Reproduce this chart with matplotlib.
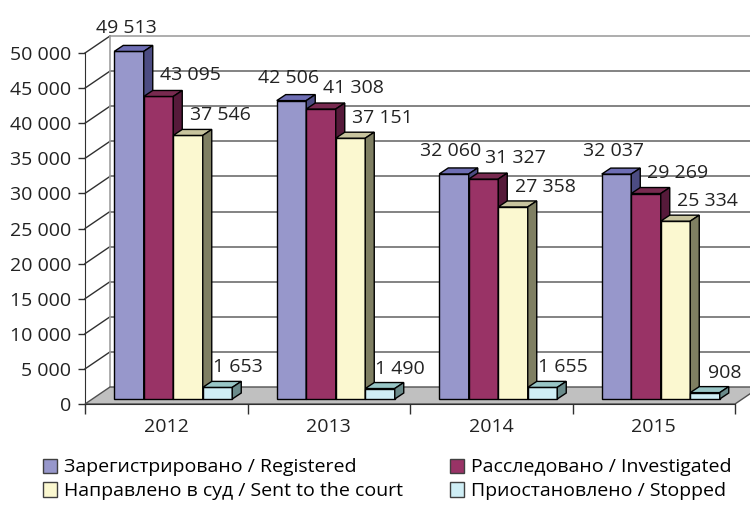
import matplotlib as mpl
mpl.use('Agg')
import matplotlib.pyplot as plt
from matplotlib.patches import Polygon, Patch
from matplotlib.ticker import FuncFormatter, FixedLocator

plt.rcParams['font.family'] = ['Open Sans', 'DejaVu Sans']

years = ['2012', '2013', '2014', '2015']
registered = [49513, 42506, 32060, 32037]
investigated = [43095, 41308, 31327, 29269]
sent_to_court = [37546, 37151, 27358, 25334]
stopped = [1653, 1490, 1655, 908]

series_names = ['Зарегистрировано / Registered', 'Расследовано / Investigated',
                'Направлено в суд / Sent to the court', 'Приостановлено / Stopped']
series_values = [registered, investigated, sent_to_court, stopped]
# front, top, side
face_colors = [('#9797CB', '#6E6EB4', '#4C4C82'),
               ('#993366', '#782A50', '#561A3A'),
               ('#FBF8D0', '#C8C49E', '#7F7F62'),
               ('#CFEEF5', '#98C6C6', '#6A8A8A')]
label_dx = [-3, 32, 32, 20]   # pixels
label_dy = [23, 21, 20, 20]

fig = plt.figure(figsize=(7.5, 5.12), dpi=100)
ax = fig.add_axes([85 / 750, 108 / 512, 650 / 750, 351 / 512])
ax.set_xlim(-0.5, 3.5)
ax.set_ylim(0, 50000)

# oblique depth expressed in data units
px_x = 1 / 162.5
px_y = 50000 / 351
wall_dx, wall_dy = 25 * px_x, 17 * px_y
off_dx, off_dy = 7 * px_x, 5 * px_y
bar_dx, bar_dy = 9 * px_x, 6 * px_y
w = 29.5 * px_x

# floor
ax.add_patch(Polygon([(-0.5, 0), (3.5, 0), (3.5 + wall_dx, wall_dy), (-0.5 + wall_dx, wall_dy)],
                     closed=True, facecolor='#C0C0C0', edgecolor='#505050', lw=1,
                     clip_on=False, zorder=1))
# walls / grid
ticks = list(range(0, 50001, 5000))
for v in ticks[1:]:
    col = '#A0A0A0' if v == 50000 else '#6E6E6E'
    ax.plot([-0.5 + wall_dx, 3.5 + wall_dx + 0.2], [v + wall_dy] * 2, color=col, lw=1.2,
            clip_on=False, zorder=0.5)
    ax.plot([-0.5, -0.5 + wall_dx], [v, v + wall_dy], color='#303030', lw=1,
            clip_on=False, zorder=0.5)
ax.plot([-0.5 + wall_dx] * 2, [wall_dy, 50000 + wall_dy], color='#A0A0A0', lw=1.2,
        clip_on=False, zorder=0.5)

z = 2
for i in range(len(years)):
    for j, vals in enumerate(series_values):
        v = vals[i]
        x0 = i - 2 * w + j * w + off_dx
        x1 = x0 + w
        y0 = off_dy
        y1 = v + off_dy
        front, top, side = face_colors[j]
        ax.add_patch(Polygon([(x0, y0), (x1, y0), (x1, y1), (x0, y1)], closed=True,
                             facecolor=front, edgecolor='black', lw=1, zorder=z, clip_on=False))
        ax.add_patch(Polygon([(x0, y1), (x1, y1), (x1 + bar_dx, y1 + bar_dy), (x0 + bar_dx, y1 + bar_dy)],
                             closed=True, facecolor=top, edgecolor='black', lw=1, zorder=z, clip_on=False))
        ax.add_patch(Polygon([(x1, y0), (x1 + bar_dx, y0 + bar_dy), (x1 + bar_dx, y1 + bar_dy), (x1, y1)],
                             closed=True, facecolor=side, edgecolor='black', lw=1, zorder=z, clip_on=False))
        z += 1
        ax.annotate(f'{v:,}'.replace(',', ' '), xy=((x0 + x1) / 2, y1),
                    xytext=(label_dx[j], label_dy[j]), textcoords='offset pixels',
                    ha='center', va='center', fontsize=14, color='#222222',
                    zorder=50, annotation_clip=False)

for s in ['top', 'right']:
    ax.spines[s].set_visible(False)
ax.spines['left'].set_color('#303030')
ax.spines['bottom'].set_color('#303030')
ax.spines['left'].set_zorder(0.6)

ax.set_yticks(ticks)
ax.yaxis.set_major_formatter(FuncFormatter(lambda v, p: f'{int(v):,}'.replace(',', ' ')))
ax.tick_params(axis='y', length=5, width=1, color='#303030', pad=5, labelsize=14, labelcolor='#222222')

ax.set_xticks(range(len(years)))
ax.set_xticklabels(years)
ax.xaxis.set_minor_locator(FixedLocator([-0.5, 0.5, 1.5, 2.5, 3.5]))
ax.tick_params(axis='x', which='major', length=0, pad=10, labelsize=14, labelcolor='#222222')
ax.tick_params(axis='x', which='minor', length=7, width=1, color='#303030')
ax.set_facecolor('none')

order = [0, 2, 1, 3]
handles = [Patch(facecolor=face_colors[k][0], edgecolor='#404040', lw=1) for k in order]
fig.legend(handles, [series_names[k] for k in order], loc='lower left',
           bbox_to_anchor=(33 / 750, 2 / 512),
           ncol=2, frameon=False, fontsize=14, handlelength=0.75, handleheight=0.75,
           handletextpad=0.35, columnspacing=2.4, labelspacing=0.3, borderpad=0)

fig.savefig('out.png', dpi=100)
